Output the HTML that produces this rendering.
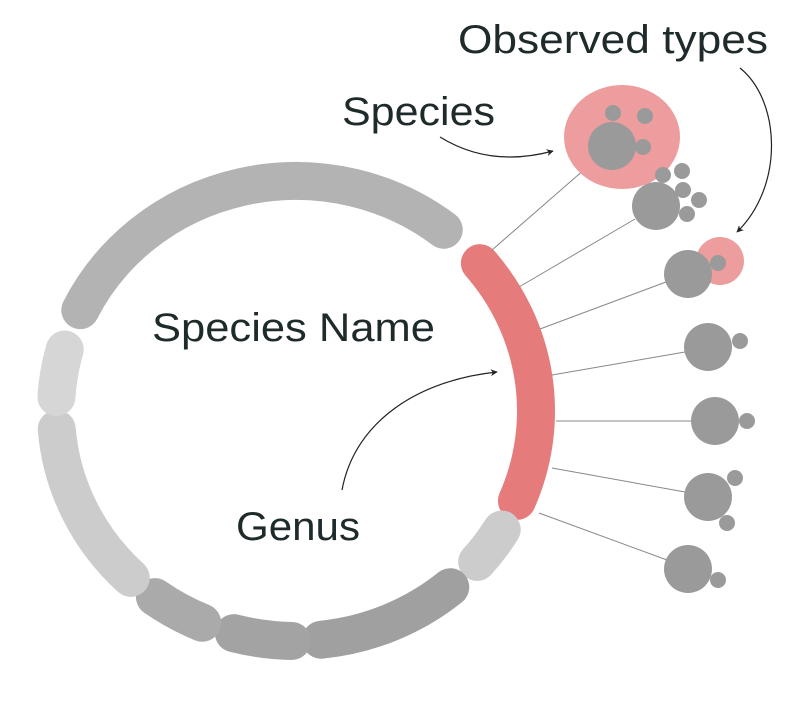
<!DOCTYPE html>
<html><head><meta charset="utf-8"><style>
html,body{margin:0;padding:0;background:#fff;}
svg{display:block;}
text{font-family:"Liberation Sans",sans-serif;fill:#1f2b2b;}
</style></head><body>
<svg width="801" height="701" viewBox="0 0 801 701" xmlns="http://www.w3.org/2000/svg">
<defs>
<marker id="ah" viewBox="0 0 10 10" refX="9" refY="5" markerWidth="7" markerHeight="7" orient="auto" markerUnits="userSpaceOnUse">
<path d="M0,0 L10,5 L0,10 L3,5 z" fill="#222"/></marker>
</defs>
<g fill="none" stroke-width="38" stroke-linecap="round" id="arcs"></g>
<g stroke="#888" stroke-width="1">
<line x1="492" y1="250" x2="593" y2="162"/>
<line x1="519" y1="287" x2="635" y2="219"/>
<line x1="540" y1="329" x2="666" y2="282"/>
<line x1="552" y1="375" x2="685" y2="352"/>
<line x1="556" y1="421" x2="692" y2="421"/>
<line x1="552" y1="468" x2="685" y2="492"/>
<line x1="539" y1="513" x2="667" y2="560"/>
</g>
<ellipse cx="622" cy="137" rx="58" ry="52" fill="#ed9d9d"/>
<circle cx="720" cy="261" r="24" fill="#ed9d9d"/>
<g fill="#9a9a9a">
<circle cx="612" cy="146" r="24"/><circle cx="613" cy="113" r="8"/><circle cx="645" cy="116" r="8"/><circle cx="643" cy="147" r="8"/>
<circle cx="656" cy="206" r="24"/><circle cx="663" cy="175" r="8"/><circle cx="682" cy="171" r="8"/><circle cx="683" cy="190" r="8"/><circle cx="699" cy="200" r="8"/><circle cx="687" cy="214" r="8"/>
<circle cx="688" cy="274" r="24"/><circle cx="718" cy="263" r="8"/>
<circle cx="708" cy="347" r="24"/><circle cx="740" cy="341" r="8"/>
<circle cx="715" cy="421" r="24"/><circle cx="747" cy="421" r="8"/>
<circle cx="708" cy="497" r="24"/><circle cx="735" cy="478" r="8"/><circle cx="727" cy="523" r="8"/>
<circle cx="688" cy="569" r="24"/><circle cx="718" cy="580" r="8"/>
</g>
<g fill="none" stroke="#222" stroke-width="1.2">
<path d="M440,137 Q490,168 553,151" marker-end="url(#ah)"/>
<path d="M740,68 C780,100 785,185 737,232" marker-end="url(#ah)"/>
<path d="M342,490 C355,420 420,380 497,372" marker-end="url(#ah)"/>
</g>
<text x="152" y="341" font-size="40" textLength="283" lengthAdjust="spacingAndGlyphs">Species Name</text>
<text x="236" y="540" font-size="40" textLength="124" lengthAdjust="spacingAndGlyphs">Genus</text>
<text x="342" y="125" font-size="40" textLength="153" lengthAdjust="spacingAndGlyphs">Species</text>
<text x="458" y="53" font-size="40" textLength="310" lengthAdjust="spacingAndGlyphs">Observed types</text>
<script>
(function(){
var cx=296,cy=411,rx=240,ry=230;
var segs=[[206,308,"#b3b3b3"],[320,383,"#e57c7b"],[31,41,"#cccccc"],[50,84,"#a0a0a0"],[91,105,"#a3a3a3"],[113,126,"#aaaaaa"],[133.5,175.5,"#cccccc"],[183.5,195.5,"#d6d6d6"]];
var g=document.getElementById("arcs");
segs.forEach(function(s){
var a1=s[0]*Math.PI/180,a2=s[1]*Math.PI/180;
var x1=cx+rx*Math.cos(a1),y1=cy+ry*Math.sin(a1),x2=cx+rx*Math.cos(a2),y2=cy+ry*Math.sin(a2);
var large=(s[1]-s[0])>180?1:0;
var p=document.createElementNS("http://www.w3.org/2000/svg","path");
p.setAttribute("d","M"+x1+","+y1+" A"+rx+","+ry+" 0 "+large+" 1 "+x2+","+y2);
p.setAttribute("stroke",s[2]);
g.appendChild(p);
});
})();
</script>
</svg>
</body></html>
